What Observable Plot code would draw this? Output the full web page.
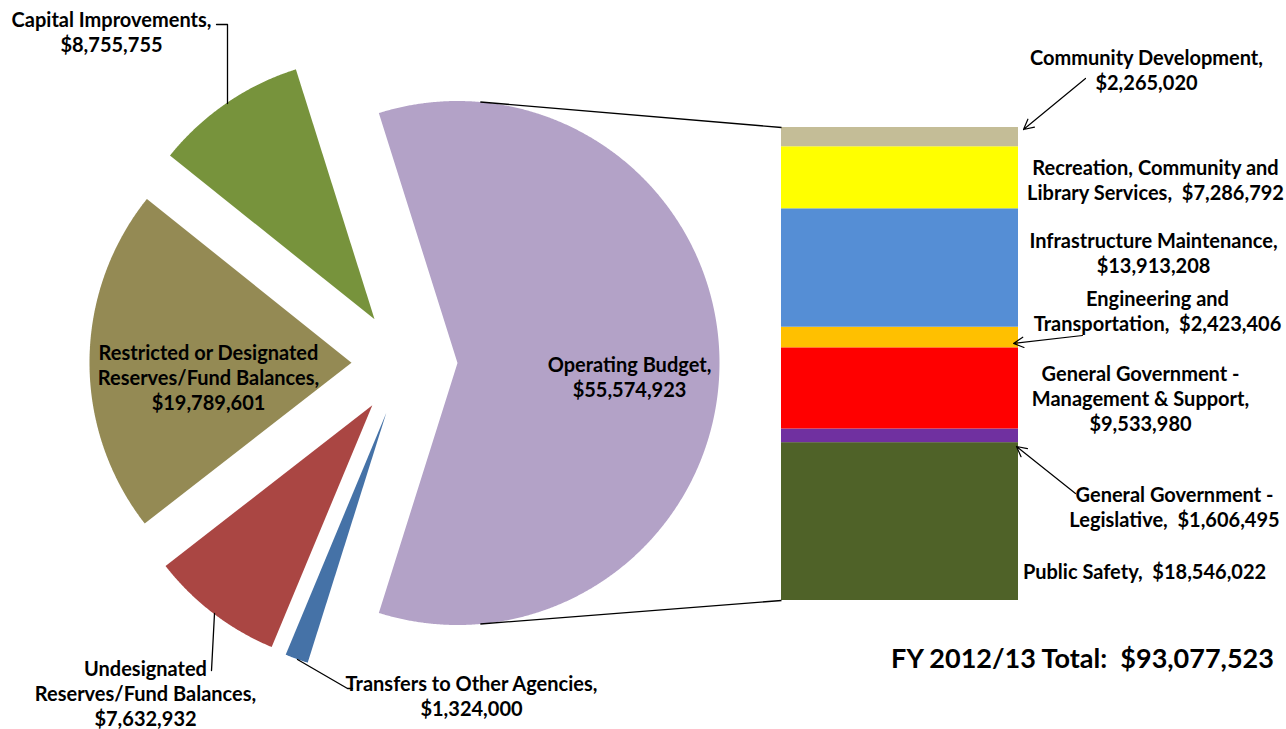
<!DOCTYPE html>
<html><head><meta charset="utf-8">
<script src="https://cdn.jsdelivr.net/npm/d3@7"></script>
<script src="https://cdn.jsdelivr.net/npm/@observablehq/plot@0.6"></script>
<style>
html,body{margin:0;padding:0;background:#fff;overflow:hidden;}
#chart svg text{white-space:pre;}
</style></head><body><div id="chart"></div>
<script>
// ---- DATA ----
// Pie slices, clockwise starting from the operating slice
const pieNames = ["Operating Budget", "Transfers to Other Agencies", "Undesignated\nReserves/Fund Balances", "Restricted or Designated\nReserves/Fund Balances", "Capital Improvements"];
const pieValues = [55574923, 1324000, 7632932, 19789601, 8755755];
const pieColors = ["#B3A2C7", "#4572A7", "#AA4643", "#948A54", "#77933C"];

// Operating budget breakdown, bottom to top
const barNames = ["Public Safety", "General Government -\nLegislative", "General Government -\nManagement & Support", "Engineering and\nTransportation", "Infrastructure Maintenance", "Recreation, Community and\nLibrary Services", "Community Development"];
const barValues = [18546022, 1606495, 9533980, 2423406, 13913208, 7286792, 2265020];
const barColors = ["#4F6228", "#7030A0", "#FF0000", "#FFC000", "#558ED5", "#FFFF00", "#C4BD97"];

const totalTitle = "FY 2012/13 Total:";
const totalValue = 93077523;

// ---- LAYOUT ----
const W = 1286, H = 729;
const pieCenter = [404, 362.5], R = 262, explode = 53;
const bar = {x1: 781, x2: 1018, top: 127, bottom: 600};
const FONT = "Lato, 'Open Sans', sans-serif";
const FS = 20;
const pieLabelLayout = [[629, 376, ",\n"], [471, 695, ",\n"], [145, 692, ",\n"], [208, 376, ",\n"], [111, 31, ",\n"]];
const barLabelLayout = [[1144, 570, ",  "], [1174, 506, ",  "], [1140, 397, ",\n"], [1157, 310, ",  "], [1153, 252, ",\n"], [1155, 179, ",  "], [1146, 69, ",\n"]];
const leaderLayout = [
  [[216, 24], [227, 24], [227, 103]],
  [[211, 670], [214, 613]],
  [[297, 659], [347, 688], [352, 688]]
];
const arrowLayout = [
  {x1: 1085, y1: 78, x2: 1023, y2: 129},
  {x1: 1082, y1: 335, x2: 1013, y2: 343},
  {x1: 1075, y1: 493, x2: 1016, y2: 446}
];
const connectorAngle = 5 * Math.PI / 180; // from top of operating slice

// ---- GEOMETRY ----
const fmt = d3.format("$,");
const pieTotal = d3.sum(pieValues);
const opAngle = pieValues[0] / pieTotal * 2 * Math.PI;
const a0 = Math.PI / 2 - opAngle / 2;
const arcs = d3.pie().sort(null).startAngle(a0).endAngle(a0 + 2 * Math.PI)(pieValues);

const slices = arcs.map((a, i) => {
  const mid = (a.startAngle + a.endAngle) / 2;
  const ox = pieCenter[0] + explode * Math.sin(mid);
  const oy = pieCenter[1] - explode * Math.cos(mid);
  const pts = [{x: ox, y: oy}];
  const n = Math.max(4, Math.ceil((a.endAngle - a.startAngle) / (Math.PI / 720)));
  for (let k = 0; k <= n; k++) {
    const t = a.startAngle + (a.endAngle - a.startAngle) * k / n;
    pts.push({x: ox + R * Math.sin(t), y: oy - R * Math.cos(t)});
  }
  return {i, ox, oy, pts, color: pieColors[i]};
});

const op = slices[0];
const connectors = [
  {x1: op.ox + R * Math.sin(connectorAngle), y1: op.oy - R * Math.cos(connectorAngle), x2: bar.x1, y2: bar.top},
  {x1: op.ox + R * Math.sin(Math.PI - connectorAngle), y1: op.oy - R * Math.cos(Math.PI - connectorAngle), x2: bar.x1, y2: bar.bottom}
];

const k = (bar.bottom - bar.top) / d3.sum(barValues);
const cum = d3.cumsum(barValues);
const segs = barValues.map((v, i) => ({
  x1: bar.x1, x2: bar.x2,
  y1: bar.bottom - (cum[i] - v) * k,
  y2: bar.bottom - cum[i] * k,
  color: barColors[i]
}));

const pieLabels = pieNames.map((n, i) => ({x: pieLabelLayout[i][0], y: pieLabelLayout[i][1], text: n + pieLabelLayout[i][2] + fmt(pieValues[i])}));
const barLabels = barNames.map((n, i) => ({x: barLabelLayout[i][0], y: barLabelLayout[i][1], text: n + barLabelLayout[i][2] + fmt(barValues[i])}));
const leaders = leaderLayout.flatMap((pts, j) => pts.map(p => ({x: p[0], y: p[1], j})));

const textOpts = {x: "x", y: "y", text: "text", fontSize: FS, fontWeight: "bold", fontFamily: FONT, lineHeight: 1.25, textAnchor: "middle", lineAnchor: "middle", fill: "black"};

const chart = Plot.plot({
  width: W, height: H, margin: 0,
  x: {domain: [0, W], range: [0, W], axis: null},
  y: {domain: [0, H], range: [0, H], axis: null},
  color: {type: "identity"},
  style: {background: "white"},
  marks: [
    ...slices.map(s => Plot.line(s.pts, {x: "x", y: "y", curve: "linear-closed", fill: s.color, stroke: "none"})),
    Plot.rect(segs, {x1: "x1", x2: "x2", y1: "y1", y2: "y2", fill: "color"}),
    Plot.link(connectors, {x1: "x1", y1: "y1", x2: "x2", y2: "y2", stroke: "black", strokeWidth: 1.3}),
    Plot.line(leaders, {x: "x", y: "y", z: "j", stroke: "black", strokeWidth: 1.3}),
    Plot.arrow(arrowLayout, {x1: "x1", y1: "y1", x2: "x2", y2: "y2", stroke: "black", strokeWidth: 1.2, headLength: 14, headAngle: 55}),
    Plot.text(pieLabels, textOpts),
    Plot.text(barLabels, textOpts),
    Plot.text([{x: 1082, y: 657, text: totalTitle + "  " + fmt(totalValue)}], {...textOpts, fontSize: 27})
  ]
});
document.getElementById("chart").appendChild(chart);
</script></body></html>
